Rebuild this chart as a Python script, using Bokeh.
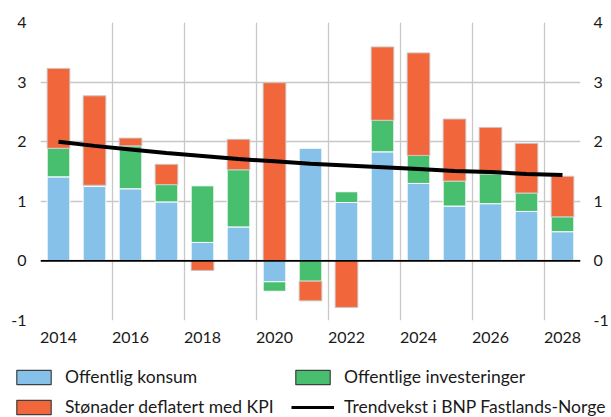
import numpy as np
from bokeh.plotting import figure
from bokeh.models import (FixedTicker, LinearAxis, Span, Legend, LegendItem, Range1d)
from bokeh.embed import file_html
from bokeh.resources import INLINE

years = [2014, 2015, 2016, 2017, 2018, 2019, 2020, 2021, 2022, 2023, 2024, 2025, 2026, 2027, 2028]
offentlig_konsum = [1.41, 1.25, 1.21, 0.99, 0.31, 0.57, -0.35, 1.89, 0.98, 1.83, 1.30, 0.92, 0.96, 0.83, 0.49]
offentlige_investeringer = [0.48, 0.02, 0.72, 0.29, 0.95, 0.96, -0.16, -0.34, 0.18, 0.53, 0.47, 0.42, 0.50, 0.31, 0.25]
stonader_kpi = [1.34, 1.50, 0.13, 0.34, -0.16, 0.51, 2.99, -0.33, -0.78, 1.23, 1.72, 1.04, 0.78, 0.83, 0.68]
trendvekst = [2.00, 1.93, 1.87, 1.81, 1.76, 1.71, 1.67, 1.63, 1.60, 1.57, 1.54, 1.51, 1.49, 1.46, 1.44]

x_tick_years = [2014, 2016, 2018, 2020, 2022, 2024, 2026, 2028]
y_ticks = [-1, 0, 1, 2, 3, 4]

labels = ["Offentlig konsum", "Offentlige investeringer",
          "Stønader deflatert med KPI", "Trendvekst i BNP Fastlands-Norge"]
colors = ["#85C1E8", "#48BF6E", "#F1673B"]
outlines = ["white", "white", "#CFC3C0"]

FONT = "Lato"
TXT = "#1a1a1a"

p = figure(width=611, height=345, output_backend="svg", toolbar_location=None,
           x_range=Range1d(2013.5, 2028.5), y_range=Range1d(-1, 4),
           min_border_left=40, min_border_right=25, min_border_top=22, min_border_bottom=25,
           outline_line_color=None)

# stacked bars, positives and negatives stacked separately
pos = np.zeros(len(years))
neg = np.zeros(len(years))
for vals, col, oc in zip([offentlig_konsum, offentlige_investeringer, stonader_kpi], colors, outlines):
    v = np.array(vals)
    bottom = np.where(v >= 0, pos, neg)
    top = bottom + v
    pos = np.where(v >= 0, top, pos)
    neg = np.where(v < 0, top, neg)
    p.vbar(x=years, bottom=bottom, top=top, width=0.63, fill_color=col,
           line_color=oc, line_width=1)

p.add_layout(Span(location=0, dimension="width", line_color="black", line_width=1.6))
p.line(years, trendvekst, line_color="black", line_width=4)

# grids
p.xgrid.ticker = FixedTicker(ticks=[y - 0.5 for y in x_tick_years] + [2028.5])
p.ygrid.ticker = FixedTicker(ticks=y_ticks)
for g in (p.xgrid, p.ygrid):
    g.grid_line_color = "#C8C8C8"
    g.grid_line_width = 1.3

# axes
p.xaxis.ticker = FixedTicker(ticks=x_tick_years)
p.yaxis.ticker = FixedTicker(ticks=y_ticks)
right = LinearAxis(ticker=FixedTicker(ticks=y_ticks))
p.add_layout(right, "right")
for ax in (p.xaxis[0], p.yaxis[0], right):
    ax.axis_line_color = None
    ax.major_tick_line_color = None
    ax.minor_tick_line_color = None
    ax.major_label_text_font = FONT
    ax.major_label_text_font_size = "16px"
    ax.major_label_text_color = TXT
p.yaxis[0].major_label_overrides = {-1: "-1"}
right.major_label_overrides = {-1: "-1"}
p.xaxis.major_label_standoff = 5
p.yaxis[0].major_label_standoff = 8
right.major_label_standoff = 7

# legend panel (separate figure underneath, its own root so frames are not aligned)
lg = figure(width=611, height=72, output_backend="svg", toolbar_location=None,
            x_range=Range1d(0, 1), y_range=Range1d(0, 1),
            x_axis_location=None, y_axis_location=None,
            min_border=0, min_border_left=0, min_border_right=0,
            min_border_top=0, min_border_bottom=0, outline_line_color=None)
lg.grid.visible = False
r_k = lg.vbar(x=[-10], top=[-10], width=0.5, fill_color=colors[0], line_color="#404040", line_width=1.2)
r_i = lg.vbar(x=[-10], top=[-10], width=0.5, fill_color=colors[1], line_color="#404040", line_width=1.2)
r_s = lg.vbar(x=[-10], top=[-10], width=0.5, fill_color=colors[2], line_color="#404040", line_width=1.2)
r_t = lg.line(x=[-10, -9], y=[-10, -9], line_color="black", line_width=3)

def make_legend(items, x):
    return Legend(items=items, location=(x, 0), orientation="vertical",
                  glyph_width=43, glyph_height=18, label_height=18, spacing=9,
                  padding=0, margin=0, label_standoff=10,
                  border_line_alpha=0, background_fill_alpha=0,
                  label_text_font=FONT, label_text_font_size="17.5px", label_text_color=TXT)

lg.add_layout(make_legend([LegendItem(label=labels[0], renderers=[r_k]),
                           LegendItem(label=labels[2], renderers=[r_s])], 12), "center")
lg.add_layout(make_legend([LegendItem(label=labels[1], renderers=[r_i]),
                           LegendItem(label=labels[3], renderers=[r_t])], 291), "center")

open("out.html", "w").write(file_html([p, lg], INLINE))
